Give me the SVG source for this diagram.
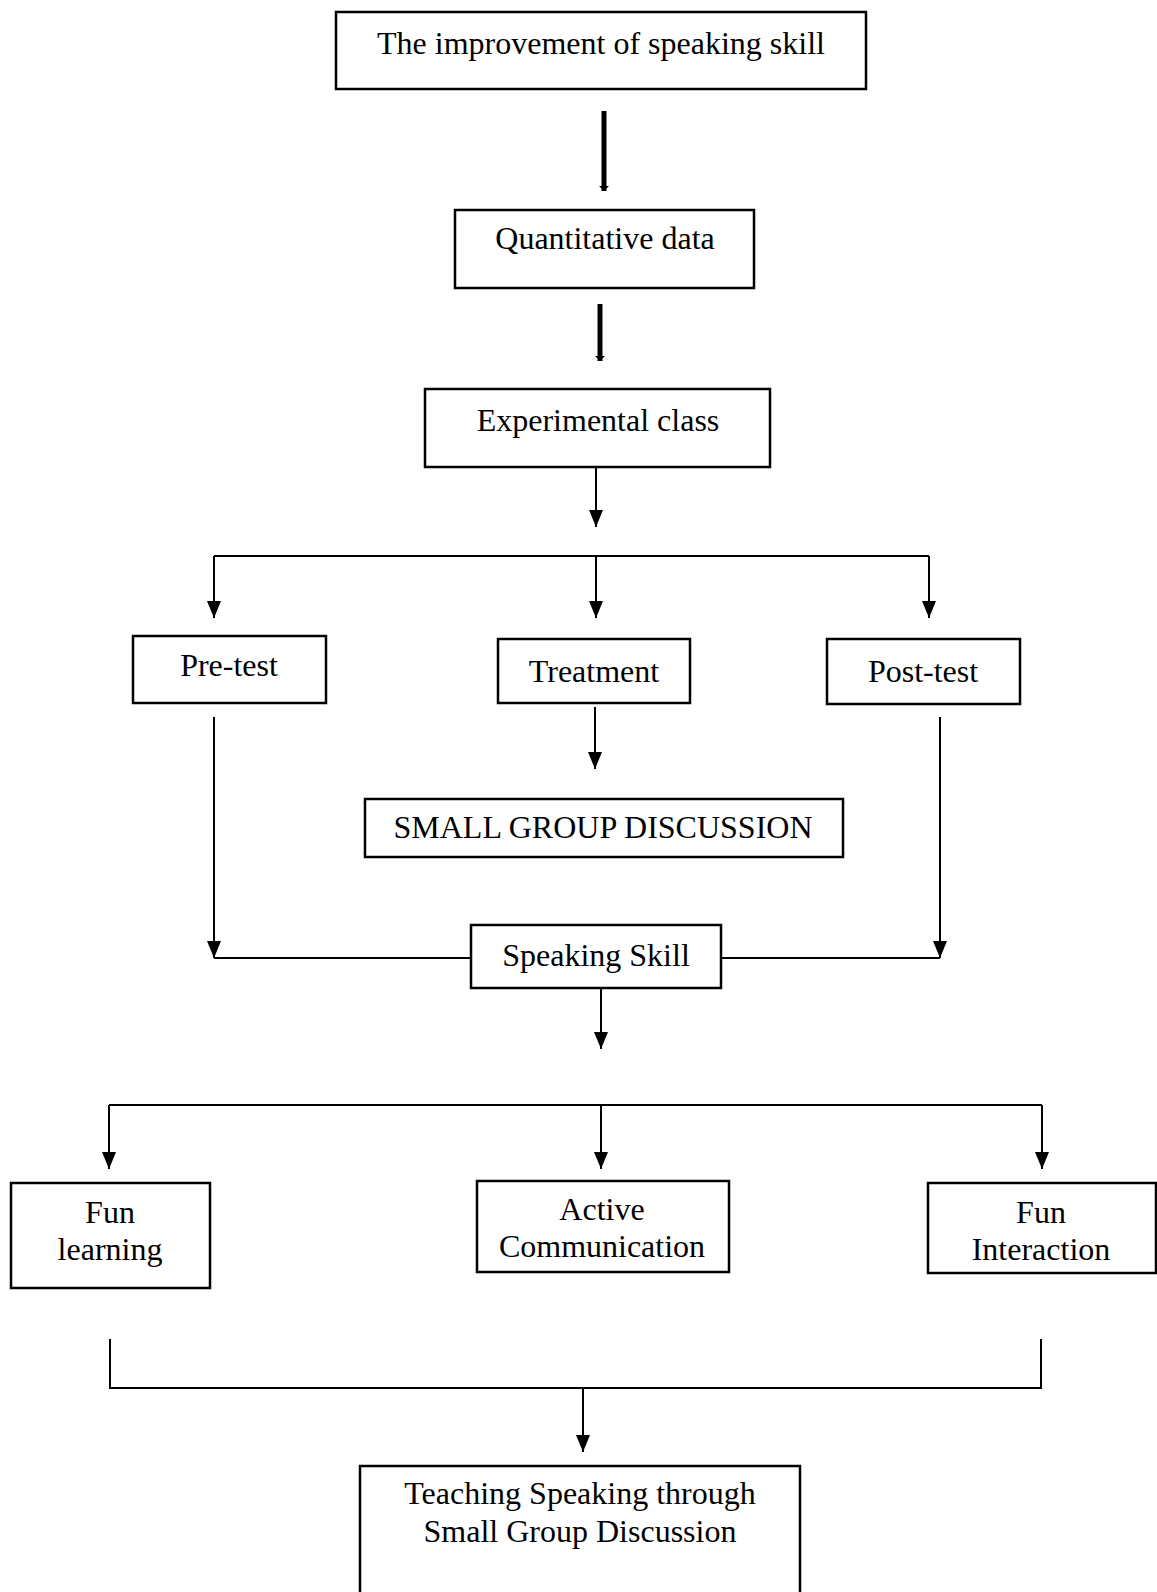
<svg xmlns="http://www.w3.org/2000/svg" width="1157" height="1592" viewBox="0 0 1157 1592">
<style>
.box{fill:#fff;stroke:#000;stroke-width:2.5}
.lbl{font-family:"Liberation Serif","Times New Roman",serif;font-size:32px;fill:#000;text-anchor:middle}
.ln{fill:none;stroke:#000;stroke-width:2}
.arr{fill:none;stroke:#000;stroke-width:2;marker-end:url(#ah)}
.thick{fill:none;stroke:#000;stroke-width:5;marker-end:url(#ahs)}
</style>
<defs>
<marker id="ah" markerUnits="userSpaceOnUse" markerWidth="17" markerHeight="14" refX="17" refY="7" orient="auto" viewBox="0 0 17 14">
<path d="M0,0 L17,7 L0,14 z" fill="#000"/>
</marker>
<marker id="ahs" markerUnits="userSpaceOnUse" markerWidth="6" markerHeight="10" refX="5" refY="5" orient="auto" viewBox="0 0 6 10">
<path d="M0,0 L5,5 L0,10 z" fill="#000"/>
</marker>
</defs>
<rect width="1157" height="1592" fill="#fff"/>
<g id="connectors">
<path class="thick" d="M604,111 V191"/>
<path class="thick" d="M600,304 V361"/>
<path class="arr" d="M596,467 V527"/>
<path class="ln" d="M214,556 H929"/>
<path class="arr" d="M214,556 V618"/>
<path class="arr" d="M596,556 V618"/>
<path class="arr" d="M929,556 V618"/>
<path class="arr" d="M595,707 V769"/>
<path class="arr" d="M214,717 V958"/>
<path class="ln" d="M214,958 H471"/>
<path class="arr" d="M940,717 V958"/>
<path class="ln" d="M722,958 H940"/>
<path class="arr" d="M601,988 V1049"/>
<path class="ln" d="M109,1105 H1042"/>
<path class="arr" d="M109,1105 V1169"/>
<path class="arr" d="M601,1105 V1169"/>
<path class="arr" d="M1042,1105 V1169"/>
<path class="ln" d="M110,1339 V1388 H1041 V1339"/>
<path class="arr" d="M583,1388 V1452"/>
</g>
<g id="n-improvement"><rect class="box" x="336" y="12" width="530" height="77"/><text class="lbl" x="601" y="54">The improvement of speaking skill</text></g>
<g id="n-quantitative"><rect class="box" x="455" y="210" width="299" height="78"/><text class="lbl" x="605" y="249">Quantitative data</text></g>
<g id="n-experimental"><rect class="box" x="425" y="389" width="345" height="78"/><text class="lbl" x="598" y="431">Experimental class</text></g>
<g id="n-pretest"><rect class="box" x="133" y="636" width="193" height="67"/><text class="lbl" x="229" y="676">Pre-test</text></g>
<g id="n-treatment"><rect class="box" x="498" y="639" width="192" height="64"/><text class="lbl" x="594" y="682">Treatment</text></g>
<g id="n-posttest"><rect class="box" x="827" y="639" width="193" height="65"/><text class="lbl" x="923" y="682">Post-test</text></g>
<g id="n-sgd"><rect class="box" x="365" y="799" width="478" height="58"/><text class="lbl" x="603" y="838">SMALL GROUP DISCUSSION</text></g>
<g id="n-speaking"><rect class="box" x="471" y="925" width="250" height="63"/><text class="lbl" x="596" y="966">Speaking Skill</text></g>
<g id="n-funlearning"><rect class="box" x="11" y="1183" width="199" height="105"/><text class="lbl" x="110" y="1223">Fun</text><text class="lbl" x="110" y="1260">learning</text></g>
<g id="n-active"><rect class="box" x="477" y="1181" width="252" height="91"/><text class="lbl" x="602" y="1220">Active</text><text class="lbl" x="602" y="1257">Communication</text></g>
<g id="n-funinteraction"><rect class="box" x="928" y="1183" width="228" height="90"/><text class="lbl" x="1041" y="1223">Fun</text><text class="lbl" x="1041" y="1260">Interaction</text></g>
<g id="n-teaching"><rect class="box" x="360" y="1466" width="440" height="140"/><text class="lbl" x="580" y="1504">Teaching Speaking through</text><text class="lbl" x="580" y="1542">Small Group Discussion</text></g>
</svg>
